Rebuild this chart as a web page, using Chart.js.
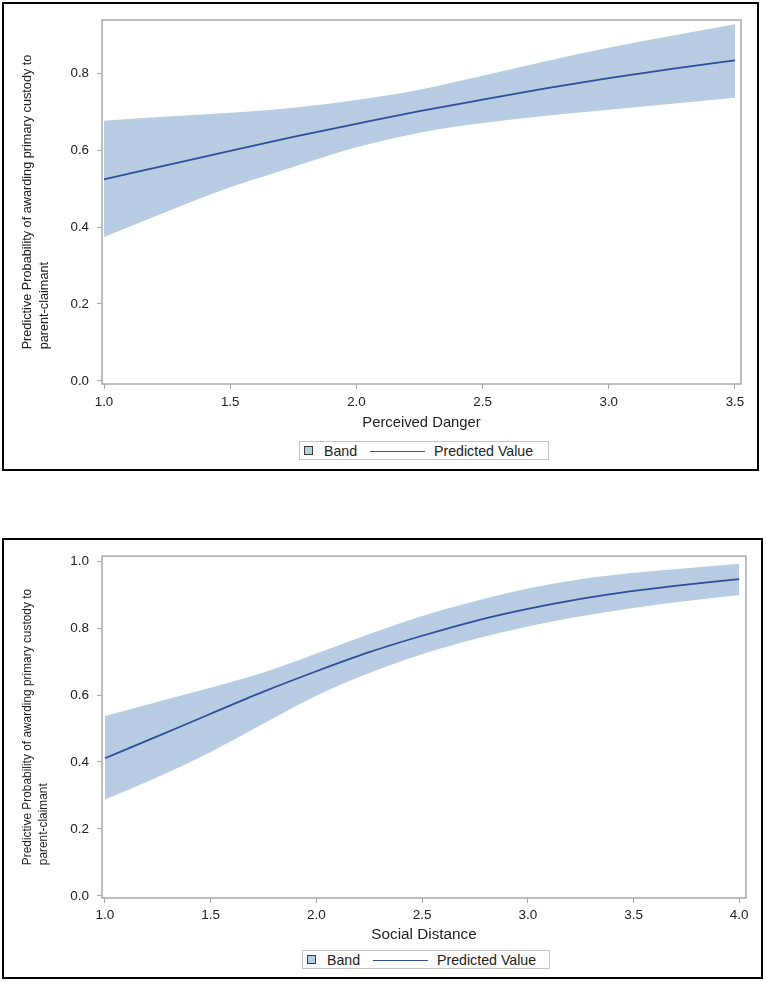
<!DOCTYPE html>
<html><head><meta charset="utf-8">
<script src="https://cdn.jsdelivr.net/npm/chart.js@4.4.1/dist/chart.umd.min.js"></script>
<style>
html,body{margin:0;padding:0;background:#fff;}
body{width:766px;height:982px;position:relative;overflow:hidden;font-family:"Liberation Sans",Arial,sans-serif;}
.panel{position:absolute;border:2px solid #000;box-sizing:border-box;background:#fff;}
.panel canvas{position:absolute;left:0;top:0;}
.legend{position:absolute;border:1px solid #c4c4c4;box-sizing:border-box;background:#fff;}
.legend .sw{position:absolute;top:50%;margin-top:-4.5px;width:9px;height:9px;box-sizing:border-box;border:1px solid #3a3a3a;background:#b8cce4;}
.legend .ln{position:absolute;top:50%;height:0;border-top:1.6px solid #2f4f98;}
.legend .tx{position:absolute;top:0;bottom:0;display:flex;align-items:center;font-size:14.2px;color:#222;white-space:nowrap;}
</style></head><body>
<div class="panel" style="left:2px;top:2px;width:757px;height:469px;"><canvas id="c1" width="753" height="465"></canvas></div>
<div class="panel" style="left:2px;top:538px;width:761px;height:441px;"><canvas id="c2" width="757" height="437"></canvas></div>
<div class="legend" style="left:299px;top:441px;width:250px;height:19px;">
  <div class="sw" style="left:4px;"></div><div class="tx" style="left:24px;">Band</div>
  <div class="ln" style="left:70px;width:55px;"></div><div class="tx" style="left:134px;">Predicted Value</div>
</div>
<div class="legend" style="left:302px;top:950px;width:248px;height:19px;">
  <div class="sw" style="left:4px;"></div><div class="tx" style="left:24px;">Band</div>
  <div class="ln" style="left:70px;width:55px;"></div><div class="tx" style="left:134px;">Predicted Value</div>
</div>
<script>
// ---- Data: Perceived Danger ----
const dangerX     = [1.0, 1.25, 1.5, 1.75, 2.0, 2.25, 2.5, 2.75, 3.0, 3.25, 3.5];
const dangerPred  = [0.524, 0.561, 0.598, 0.634, 0.668, 0.701, 0.731, 0.760, 0.787, 0.811, 0.833];
const dangerUpper = [0.676, 0.687, 0.697, 0.710, 0.730, 0.757, 0.793, 0.831, 0.866, 0.897, 0.927];
const dangerLower = [0.374, 0.440, 0.503, 0.556, 0.607, 0.645, 0.670, 0.689, 0.705, 0.720, 0.736];
const dangerXTicks = [1.0, 1.5, 2.0, 2.5, 3.0, 3.5];
const dangerYTicks = [0.0, 0.2, 0.4, 0.6, 0.8];

// ---- Data: Social Distance ----
const distX     = [1.0, 1.25, 1.5, 1.75, 2.0, 2.25, 2.5, 2.75, 3.0, 3.25, 3.5, 3.75, 4.0];
const distPred  = [0.411, 0.477, 0.544, 0.610, 0.671, 0.728, 0.777, 0.821, 0.857, 0.887, 0.911, 0.930, 0.946];
const distUpper = [0.537, 0.580, 0.622, 0.667, 0.724, 0.782, 0.836, 0.880, 0.918, 0.946, 0.965, 0.979, 0.992];
const distLower = [0.288, 0.355, 0.430, 0.515, 0.598, 0.666, 0.722, 0.767, 0.805, 0.835, 0.860, 0.881, 0.899];
const distXTicks = [1.0, 1.5, 2.0, 2.5, 3.0, 3.5, 4.0];
const distYTicks = [0.0, 0.2, 0.4, 0.6, 0.8, 1.0];

const yTitleLines = ['Predictive Probability of awarding primary custody to', 'parent-claimant'];

const FONT = '"Liberation Sans", Arial, sans-serif';
const BAND = '#b8cce4';
const LINE = '#2f4f98';
const FRAME = '#a9a9a9';
const TEXT = '#222';
Chart.defaults.font.family = FONT;

const framePlugin = {
  id: 'frame',
  afterDatasetsDraw(chart) {
    const {ctx, chartArea: a} = chart;
    ctx.save();
    ctx.strokeStyle = FRAME; ctx.lineWidth = 1.5;
    ctx.strokeRect(a.left, a.top, a.right - a.left, a.bottom - a.top);
    ctx.restore();
  }
};
const yTitlePlugin = {
  id: 'yTitle',
  afterDraw(chart, args, opts) {
    const {ctx, chartArea: a} = chart;
    ctx.save();
    ctx.font = opts.size + 'px ' + FONT;
    ctx.fillStyle = TEXT;
    const w = ctx.measureText(opts.lines[0]).width;
    const start = (a.top + a.bottom) / 2 + w / 2;
    opts.lines.forEach((line, i) => {
      ctx.save();
      ctx.translate(opts.xs[i], start);
      ctx.rotate(-Math.PI / 2);
      ctx.textAlign = 'left'; ctx.textBaseline = 'middle';
      ctx.fillText(line, 0, 0);
      ctx.restore();
    });
    ctx.restore();
  }
};

function pts(xs, ys) { return xs.map((v, i) => ({x: v, y: ys[i]})); }

function makeChart(id, c) {
  return new Chart(document.getElementById(id), {
    type: 'line',
    data: { datasets: [
      { label: 'Predicted Value', data: pts(c.x, c.pred), borderColor: LINE, borderWidth: 1.8,
        pointRadius: 0, fill: false, cubicInterpolationMode: 'monotone' },
      { label: 'Band', data: pts(c.x, c.upper), borderColor: 'rgba(0,0,0,0)', borderWidth: 0,
        backgroundColor: BAND, pointRadius: 0, fill: '+1', cubicInterpolationMode: 'monotone' },
      { label: 'Band lower', data: pts(c.x, c.lower), borderColor: 'rgba(0,0,0,0)', borderWidth: 0,
        pointRadius: 0, fill: false, cubicInterpolationMode: 'monotone' }
    ]},
    options: {
      responsive: false, animation: false, events: [],
      layout: { padding: { left: 0, top: c.padTop, right: c.padRight, bottom: c.padBottom } },
      plugins: { legend: { display: false }, tooltip: { enabled: false },
        yTitle: { lines: yTitleLines, size: c.yTitleSize, xs: [23.5, 40] } },
      scales: {
        x: { type: 'linear', min: c.xmin, max: c.xmax,
          afterBuildTicks: s => { s.ticks = c.xTicks.map(v => ({value: v})); },
          afterFit: s => { s.height = 60; },
          grid: { drawOnChartArea: false, drawTicks: true, tickLength: 5, color: FRAME, lineWidth: 1 },
          border: { display: false },
          ticks: { padding: c.xTickPad, color: TEXT, font: { size: c.tickSize }, maxRotation: 0,
            callback: v => Number(v).toFixed(1) },
          title: { display: true, text: c.xTitle, color: TEXT, font: { size: c.xTitleSize },
            padding: { top: 0, bottom: c.xTitlePad } } },
        y: { type: 'linear', min: c.ymin, max: c.ymax,
          afterBuildTicks: s => { s.ticks = c.yTicks.map(v => ({value: v})); },
          afterFit: s => { s.width = 98; },
          grid: { drawOnChartArea: false, drawTicks: true, tickLength: 5, color: FRAME, lineWidth: 1 },
          border: { display: false },
          ticks: { padding: 8, color: TEXT, font: { size: c.tickSize },
            callback: v => Number(v).toFixed(1) } }
      }
    },
    plugins: [framePlugin, yTitlePlugin]
  });
}

makeChart('c1', { x: dangerX, pred: dangerPred, upper: dangerUpper, lower: dangerLower,
  xTicks: dangerXTicks, yTicks: dangerYTicks, xmin: 0.992, xmax: 3.524, ymin: -0.008, ymax: 0.938,
  padTop: 11, padRight: 16, padBottom: 25, xTickPad: 5, tickSize: 13.3,
  xTitle: 'Perceived Danger', xTitleSize: 14.8, xTitlePad: 12, yTitleSize: 12.7 });

makeChart('c2', { x: distX, pred: distPred, upper: distUpper, lower: distLower,
  xTicks: distXTicks, yTicks: distYTicks, xmin: 0.986, xmax: 4.032, ymin: -0.0065, ymax: 1.015,
  padTop: 12, padRight: 15, padBottom: 19, xTickPad: 4, tickSize: 13.5,
  xTitle: 'Social Distance', xTitleSize: 15.3, xTitlePad: 14.5, yTitleSize: 11.9 });
</script>
</body></html>
